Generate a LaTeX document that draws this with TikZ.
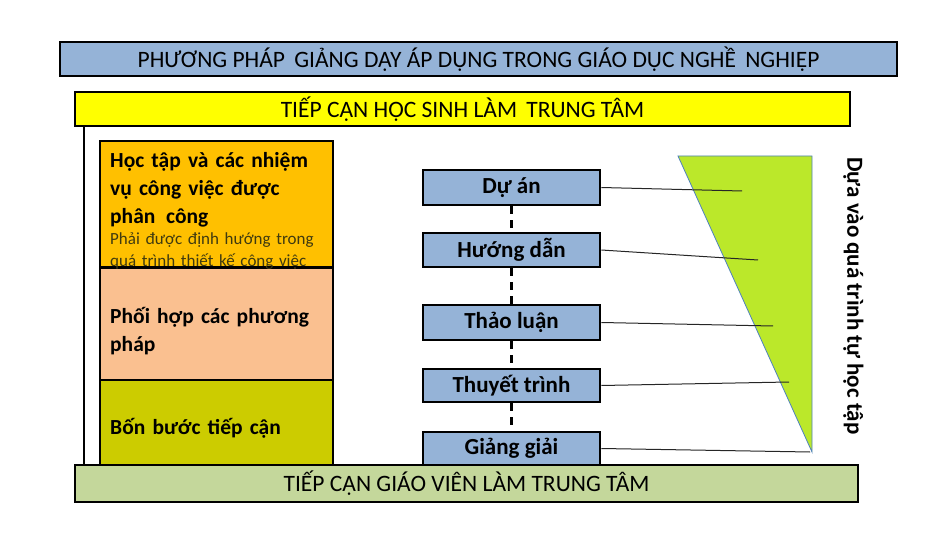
\documentclass[tikz,border=0pt]{standalone}
\usepackage{fontspec}
\setmainfont{Carlito}
\usepackage{xcolor}
\usetikzlibrary{positioning}

\definecolor{barblue}{HTML}{95B3D7}
\definecolor{baryellow}{HTML}{FFFF00}
\definecolor{bargreen}{HTML}{C4D79B}
\definecolor{boxorange}{HTML}{FFC000}
\definecolor{boxpeach}{HTML}{FAC090}
\definecolor{boxolive}{HTML}{CCCC00}
\definecolor{wedgegreen}{HTML}{BBE82A}
\definecolor{wedgeline}{HTML}{4F81BD}
\definecolor{notetext}{HTML}{3F3A10}

\tikzset{
  bar/.style={draw=black,line width=2.6pt,inner sep=0pt,
    font=\fontsize{23.5}{26}\selectfont},
  sidebox/.style={draw=black,line width=2.6pt,inner sep=0pt,
    minimum width=233pt},
  method/.style={draw=black,line width=2.6pt,fill=barblue,inner sep=0pt,
    minimum width=177pt,font=\bfseries\fontsize{23}{26}\selectfont},
  sidetext/.style={anchor=north west,inner sep=0pt,align=left,
    text width=228pt,font=\bfseries\fontsize{21.5}{28}\selectfont}
}

\begin{document}
\begin{tikzpicture}[x=1pt,y=-1pt]
\useasboundingbox (0,0) rectangle (945,553);

% top titles
\node[bar,fill=barblue,minimum width=837pt,minimum height=34pt] (title) at (478.5,59)
  {PHƯƠNG PHÁP \,GIẢNG DẠY ÁP DỤNG TRONG GIÁO DỤC NGHỀ \,NGHIỆP};
\node[bar,fill=baryellow,minimum width=775pt,minimum height=34pt] (hocsinh) at (462.5,109)
  {TIẾP CẬN HỌC SINH LÀM \,TRUNG TÂM};

% left column
\node[sidebox,fill=boxorange,minimum height=126pt] (nhiemvu) at (216.5,204) {};
\node[sidebox,fill=boxpeach,minimum height=112pt] (phoihop) at (216.5,324) {};
\node[sidebox,fill=boxolive,minimum height=85pt] (bonbuoc) at (216.5,422.5) {};

\begin{scope}
\clip (nhiemvu.north west) rectangle ([yshift=-1.3pt]nhiemvu.south east);
\node[sidetext] (nhiemvutext) at (110,152)
  {Học tập và các nhiệm\\vụ công việc được\\phân \,công};
\node[anchor=north west,inner sep=0pt,align=left,text width=228pt,
  text=notetext,font=\fontsize{17}{22}\selectfont] (dinhhuong) at (110,232)
  {Phải được định hướng trong\\quá trình thiết kế công việc};
\end{scope}
\node[sidetext] (phoihoptext) at (110,307) {Phối hợp các phương\\pháp};
\node[sidetext,anchor=west] (bonbuoctext) at (110,428) {Bốn bước tiếp cận};

% methods
\node[method,minimum height=35pt] (duan) at (511.5,187.5) {Dự án};
\node[method,minimum height=34pt] (huongdan) at (511.5,250) {Hướng dẫn};
\node[method,minimum height=35pt] (thaoluan) at (511.5,322.5) {Thảo luận};
\node[method,minimum height=33pt] (thuyettrinh) at (511.5,385.5) {Thuyết trình};
\node[method,minimum height=33pt] (giangiai) at (511.5,448.5) {Giảng giải};

\foreach \a/\b in {duan/huongdan,huongdan/thaoluan,thaoluan/thuyettrinh,thuyettrinh/giangiai}
  \draw[line width=2.6pt,dash pattern=on 8pt off 6pt] (\a.south) -- (\b.north);

% wedge
\coordinate (wtl) at (678,156);
\coordinate (wtr) at (812,156);
\coordinate (wbr) at (812,452);
\draw[fill=wedgegreen,draw=wedgeline,line width=0.8pt] (wtl) -- (wtr) -- (wbr) -- cycle;

\coordinate (p1) at (742,191);
\coordinate (p2) at (758,260);
\coordinate (p3) at (773,326);
\coordinate (p4) at (789,382);
\coordinate (p5) at (810,452);
\foreach \m/\p in {duan/p1,huongdan/p2,thaoluan/p3,thuyettrinh/p4,giangiai/p5}
  \draw[line width=1pt,black!85] (\m.east) -- (\p);

\node[rotate=-90,anchor=south west,inner sep=0pt,font=\bfseries\fontsize{23}{26}\selectfont] (tuhoc) at (843,157)
  {Dựa vào quá trình tự học tập};

% left rule and bottom bar
\coordinate (lt) at (84,126);
\coordinate (lb) at (84,466);
\draw[line width=2pt] (lt) -- (lb);
\node[bar,fill=bargreen,minimum width=783pt,minimum height=37pt] (giaovien) at (466.5,483.5)
  {TIẾP CẬN GIÁO VIÊN LÀM TRUNG TÂM};
\end{tikzpicture}
\end{document}
